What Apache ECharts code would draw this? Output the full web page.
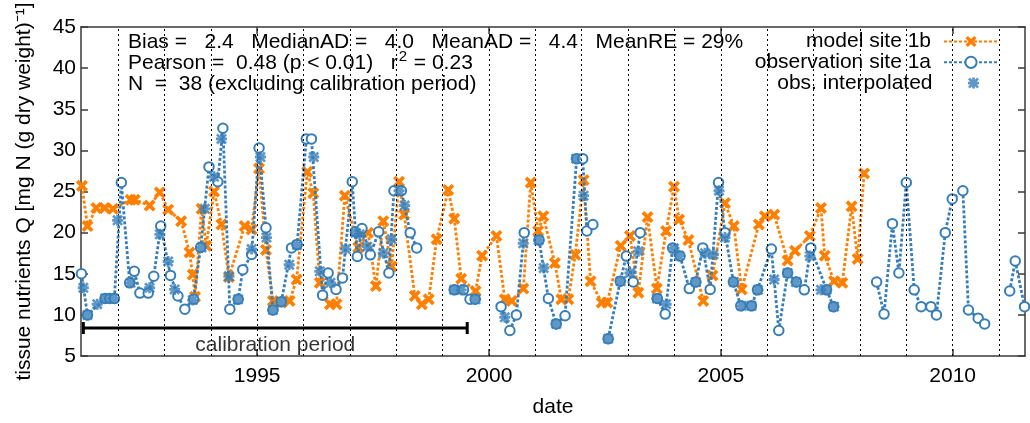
<!DOCTYPE html>
<html><head><meta charset="utf-8">
<script src="https://cdn.jsdelivr.net/npm/echarts@6/dist/echarts.min.js"></script>
<style>html,body{margin:0;padding:0;background:#fff}#c{width:1030px;height:423px}</style>
</head><body><div id="c"></div>
<script>
const FONT = '"Liberation Sans", Arial, sans-serif';
const FS = 21;
const ORANGE = '#ff7f00';
const BLUE = '#377eb8';
const AXIS = '#3a3a3a';

const xRange = [1991.20, 2011.56];
const yRange = [5, 45];
const yStep = 5;
const yearLines = [1992,1993,1994,1995,1996,1997,1998,1999,2000,2001,2002,2003,2004,2005,2006,2007,2008,2009,2010,2011];
const xTickLabels = [1995, 2000, 2005, 2010];

const seriesNames = ['model site 1b', 'observation site 1a', 'obs. interpolated'];

// model site 1b : [decimal year, value]
const modelPoints = [
 [1991.22,25.7],[1991.34,20.8],[1991.53,23.0],[1991.71,23.0],[1991.89,22.9],[1992.27,24.0],[1992.36,24.0],
 [1992.68,23.3],[1992.90,24.9],[1993.08,22.8],[1993.36,21.4],[1993.54,17.6],[1993.61,14.9],[1993.66,12.2],
 [1993.80,22.9],[1993.90,18.4],[1994.07,25.0],[1994.23,21.0],[1994.39,14.6],[1994.73,20.8],[1994.88,20.4],
 [1995.04,27.8],[1995.19,17.9],[1995.34,11.7],[1995.52,11.5],[1995.70,11.7],[1995.85,14.3],[1996.08,27.4],
 [1996.21,24.8],[1996.35,13.9],[1996.57,11.3],[1996.71,11.3],[1996.89,24.5],[1997.18,18.2],[1997.39,20.0],
 [1997.56,13.5],[1997.72,21.4],[1997.90,15.9],[1998.06,26.2],[1998.17,22.2],[1998.40,12.3],[1998.55,11.3],
 [1998.70,11.9],[1998.87,19.2],[1999.12,25.2],[1999.25,21.7],[1999.40,14.4],[1999.71,12.9],[1999.85,17.2],
 [2000.16,19.6],[2000.34,11.9],[2000.49,11.7],[2000.74,13.2],[2000.90,26.1],[2001.06,20.2],[2001.17,22.0],
 [2001.42,16.3],[2001.56,11.9],[2001.71,11.9],[2001.86,17.3],[2002.04,26.4],[2002.19,14.1],[2002.43,11.5],
 [2002.55,11.5],[2002.84,18.4],[2003.04,19.6],[2003.22,12.7],[2003.42,21.9],[2003.62,13.2],[2003.82,20.2],
 [2003.99,25.6],[2004.10,21.6],[2004.30,19.1],[2004.62,11.7],[2004.82,14.8],[2005.09,23.6],[2005.28,20.8],
 [2005.45,13.1],[2005.82,21.0],[2005.95,22.0],[2006.15,22.2],[2006.44,16.6],[2006.60,17.8],[2006.92,19.6],
 [2007.16,23.0],[2007.24,17.2],[2007.44,14.1],[2007.62,13.9],[2007.82,23.2],[2007.95,16.8],[2008.09,27.2]
];

// observation site 1a : null = break in the line
const obsPoints = [
 [1991.21,15.0],[1991.34,10.0],[1991.72,12.0],[1991.82,12.0],[1991.92,12.0],[1992.07,26.1],[1992.25,13.9],
 [1992.35,15.3],[1992.47,12.65],[1992.65,12.65],[1992.77,14.7],[1992.92,20.8],[1993.13,14.8],[1993.29,12.3],
 [1993.44,10.7],[1993.63,11.9],[1993.78,18.2],[1993.96,28.0],[1994.15,26.2],[1994.26,32.7],[1994.41,10.7],
 [1994.59,11.9],[1994.69,15.5],[1994.88,17.35],[1995.04,30.3],[1995.19,20.6],[1995.34,10.6],[1995.52,11.6],
 [1995.74,18.15],[1995.86,18.55],[1996.06,31.4],[1996.17,31.4],[1996.41,12.4],[1996.53,15.1],[1996.70,13.1],
 [1996.84,14.5],[1997.05,26.2],[1997.12,20.1],[1997.16,17.1],[1997.26,20.5],[1997.44,17.3],[1997.62,20.1],
 [1997.84,15.1],[1997.95,25.1],[1998.11,25.1],[1998.30,20.0],[1998.44,18.15], null,
 [1999.25,13.05],[1999.45,13.05],[1999.59,11.9],[1999.70,11.9], null,
 [2000.26,11.0],[2000.45,8.1],[2000.59,10.0],[2000.76,20.0], null,
 [2001.08,19.1],[2001.28,12.0],[2001.45,8.9],[2001.64,9.9],[2001.89,29.0],[2002.02,29.0],[2002.11,20.2],
 [2002.24,21.0], null,
 [2002.57,7.1],[2002.83,14.1],[2002.96,17.15],[2003.11,14.0],[2003.26,20.0], null,
 [2003.63,12.0],[2003.80,10.1],[2003.96,18.15],[2004.12,17.15],[2004.32,13.2],[2004.46,14.0],[2004.61,18.15],
 [2004.77,13.1],[2004.95,26.1],[2005.09,20.0],[2005.27,14.0],[2005.43,11.1],[2005.66,11.1],[2005.79,13.05],
 [2006.09,18.0],[2006.25,8.1],[2006.44,15.1],[2006.63,14.0],[2006.80,13.05],[2006.94,18.15],[2007.28,13.05],
 [2007.43,11.0], null,
 [2008.36,14.0],[2008.52,10.1],[2008.70,21.1],[2008.84,15.1],[2009.00,26.1],[2009.17,13.05],[2009.32,11.0],
 [2009.53,11.0],[2009.65,10.0],[2009.84,20.0],[2009.99,24.1],[2010.22,25.1],[2010.34,10.6],[2010.55,9.6],
 [2010.69,8.9], null,
 [2011.23,12.9],[2011.35,16.55],[2011.55,11.0]
];

// obs. interpolated
const interpPoints = [
 [1991.25,13.3],[1991.34,10.0],[1991.55,11.3],[1991.72,12.0],[1991.90,12.0],[1991.99,21.5],[1992.27,13.9],
 [1992.68,13.3],[1992.90,19.8],[1993.08,16.5],[1993.22,13.1],[1993.61,11.8],[1993.80,18.2],[1993.87,22.9],
 [1994.07,26.8],[1994.23,31.4],[1994.39,14.7],[1994.59,11.9],[1994.88,18.0],[1995.07,29.2],[1995.20,19.4],
 [1995.34,10.6],[1995.52,11.6],[1995.69,16.1],[1995.86,18.5],[1996.22,29.2],[1996.35,15.3],[1996.58,13.9],
 [1996.91,18.0],[1997.12,20.0],[1997.21,19.8],[1997.37,18.3],[1997.72,17.5],[1997.90,19.2],[1998.06,25.1],
 [1998.18,23.3],[1999.25,13.05],[1999.40,13.05],[1999.71,11.9],[2000.34,9.7],[2000.74,18.7],[2001.07,19.1],
 [2001.18,15.7],[2001.45,8.9],[2001.88,29.0],[2002.04,24.5],[2002.57,7.1],[2002.84,14.1],[2003.04,15.1],
 [2003.22,17.75],[2003.62,12.0],[2003.82,11.3],[2003.99,18.1],[2004.10,17.2],[2004.46,14.0],[2004.66,17.5],
 [2004.84,17.35],[2004.96,25.1],[2005.09,19.4],[2005.28,14.0],[2005.45,11.1],[2005.66,11.1],[2005.80,13.05],
 [2006.15,14.3],[2006.44,15.1],[2006.62,14.0],[2006.92,17.15],[2007.16,13.05],[2007.28,13.05],[2007.44,11.0]
];

const calibPeriod = [1991.25, 1999.53];
const calibLevel = 8.4;
const calibText = 'calibration period';

const statsLine1 = 'Bias =   2.4   MedianAD =   4.0   MeanAD =   4.4   MeanRE = 29%';
const statsLine2a = 'Pearson =  0.48 (p < 0.01)   r';
const statsLine2sup = '2';
const statsLine2b = ' = 0.23';
const statsLine3 = 'N  =  38 (excluding calibration period)';

const yTitle = 'tissue nutrients Q [mg N (g dry weight)\u207B\u00B9]';
const xTitle = 'date';

// ---------------------------------------------------------------
const X_PATH = 'path://M0,2.2L2.2,0L5,2.8L7.8,0L10,2.2L7.2,5L10,7.8L7.8,10L5,7.2L2.2,10L0,7.8L2.8,5Z';
const STAR_PATH = 'path://M0,3.7H10V6.3H0Z M3.7,0H6.3V10H3.7Z M1.7,0L10,8.3L8.3,10L0,1.7Z M8.3,0L10,1.7L1.7,10L0,8.3Z';

function withGaps(arr){
  const out = [];
  for (let i = 0; i < arr.length; i++) {
    if (arr[i] === null) { out.push([arr[i-1][0] + 0.01, null]); }
    else out.push(arr[i]);
  }
  return out;
}

const cv = document.createElement('canvas').getContext('2d');
function tw(s, size){ cv.font = size + 'px "Liberation Sans"'; return cv.measureText(s).width; }

const chart = echarts.init(document.getElementById('c'), null, {renderer:'canvas'});
const GL = 81, GT = 25, GR = 5, GB = 66;

const dotted = [3, 2];
const txt = {fontFamily: FONT, fontSize: FS, color: '#000'};

// legend layout: icon box right edge at x=999, text right edge at x=931
const legendRight = [31, 31, 51];
const legendIconW = [54, 54, 14];
const legendIconH = [14, 14, 11];
const legendPad = [8, 8, 29];
function legendFor(name, idx){
  return {
    data: [name], right: legendRight[idx], top: 31 + idx * 20.8, orient: 'horizontal', align: 'right',
    padding: 0, itemWidth: legendIconW[idx], itemHeight: legendIconH[idx], selectedMode: false,
    textStyle: Object.assign({}, txt, {padding: [0, legendPad[idx], 0, 0]})
  };
}

const sx = 128;
const w2a = tw(statsLine2a, FS);
const wSup = tw(statsLine2sup, 15);

const option = {
  animation: false,
  backgroundColor: '#fff',
  grid: {left: GL, top: GT, right: GR, bottom: GB, containLabel: false},
  legend: seriesNames.map(legendFor),
  xAxis: [
    {type:'value', position:'bottom', min: xRange[0], max: xRange[1],
     axisLine:{show:true, onZero:false, lineStyle:{color:AXIS, width:1.5}},
     axisTick:{show:true, inside:true, length:7, customValues: xTickLabels, lineStyle:{color:AXIS, width:1.5}},
     axisLabel:Object.assign({show:true, margin:10, customValues: xTickLabels, formatter: v => String(Math.round(v))}, txt),
     splitLine:{show:false},
     name: xTitle, nameLocation:'middle', nameGap: 41, nameTextStyle: txt},
    {type:'value', position:'top', min: xRange[0], max: xRange[1],
     axisLine:{show:true, onZero:false, lineStyle:{color:AXIS, width:1.5}},
     axisTick:{show:true, inside:true, length:7, customValues: xTickLabels, lineStyle:{color:AXIS, width:1.5}},
     axisLabel:{show:false}, splitLine:{show:false}}
  ],
  yAxis: [
    {type:'value', position:'left', min: yRange[0], max: yRange[1], interval: yStep,
     axisLine:{show:true, onZero:false, lineStyle:{color:AXIS, width:1.5}},
     axisTick:{show:true, inside:true, length:7, lineStyle:{color:AXIS, width:1.5}},
     axisLabel:Object.assign({margin:5}, txt),
     splitLine:{show:false},
     name: yTitle, nameLocation:'middle', nameGap: 46, nameTextStyle: txt},
    {type:'value', position:'right', min: yRange[0], max: yRange[1], interval: yStep,
     axisLine:{show:true, onZero:false, lineStyle:{color:AXIS, width:1.5}},
     axisTick:{show:true, inside:true, length:7, lineStyle:{color:AXIS, width:1.5}},
     axisLabel:{show:false}, splitLine:{show:false}}
  ],
  series: [
    {type:'line', name:'_grid', data: [], z: 1, silent: true, legendHoverLink:false,
     markLine: {silent:true, symbol:['none','none'], label:{show:false}, animation:false,
       lineStyle:{color:'#000', width:1, type:[2,3]},
       data: yearLines.map(y => ({xAxis: y}))}},
    {type:'line', name: seriesNames[0], data: modelPoints, z: 3,
     symbol: X_PATH, symbolSize: 12, showSymbol: true, showAllSymbol: true,
     itemStyle: {color: ORANGE},
     lineStyle: {color: ORANGE, width: 2.8, type: dotted}},
    {type:'line', name: seriesNames[1], data: withGaps(obsPoints), z: 4, connectNulls: false,
     symbol: 'emptyCircle', symbolSize: 9.5, showSymbol: true, showAllSymbol: true,
     itemStyle: {color: BLUE, borderColor: BLUE, borderWidth: 3.6},
     lineStyle: {color: BLUE, width: 2.8, type: dotted}},
    {type:'scatter', name: seriesNames[2], data: interpPoints, z: 5,
     symbol: STAR_PATH, symbolSize: 11, itemStyle: {color: BLUE}},
    {type:'line', name:'_calib', z: 6, silent: true,
     data: [[calibPeriod[0], calibLevel], [calibPeriod[1], calibLevel]],
     symbol: 'rect', symbolSize: [3, 12], showSymbol: true,
     itemStyle: {color: '#000'}, lineStyle: {color: '#000', width: 3, type: 'solid'}},
    {type:'scatter', name:'_calibText', z: 6, silent: true,
     data: [[(calibPeriod[0] + calibPeriod[1]) / 2, calibLevel]],
     symbolSize: 0, itemStyle:{color:'transparent'},
     label: Object.assign({show:true, position:'bottom', distance: 7, formatter: calibText}, txt)}
  ],
  graphic: [
    {type:'text', x: sx, y: 42, z: 10, style:{text: statsLine1, font: FS + 'px ' + FONT, fill:'#000', verticalAlign:'middle'}},
    {type:'text', x: sx, y: 63, z: 10, style:{text: statsLine2a, font: FS + 'px ' + FONT, fill:'#000', verticalAlign:'middle'}},
    {type:'text', x: sx + w2a + 1, y: 57, z: 10, style:{text: statsLine2sup, font: '15px ' + FONT, fill:'#000', verticalAlign:'middle'}},
    {type:'text', x: sx + w2a + wSup + 2, y: 63, z: 10, style:{text: statsLine2b, font: FS + 'px ' + FONT, fill:'#000', verticalAlign:'middle'}},
    {type:'text', x: sx, y: 84, z: 10, style:{text: statsLine3, font: FS + 'px ' + FONT, fill:'#000', verticalAlign:'middle'}}
  ]
};
chart.setOption(option);
</script></body></html>
